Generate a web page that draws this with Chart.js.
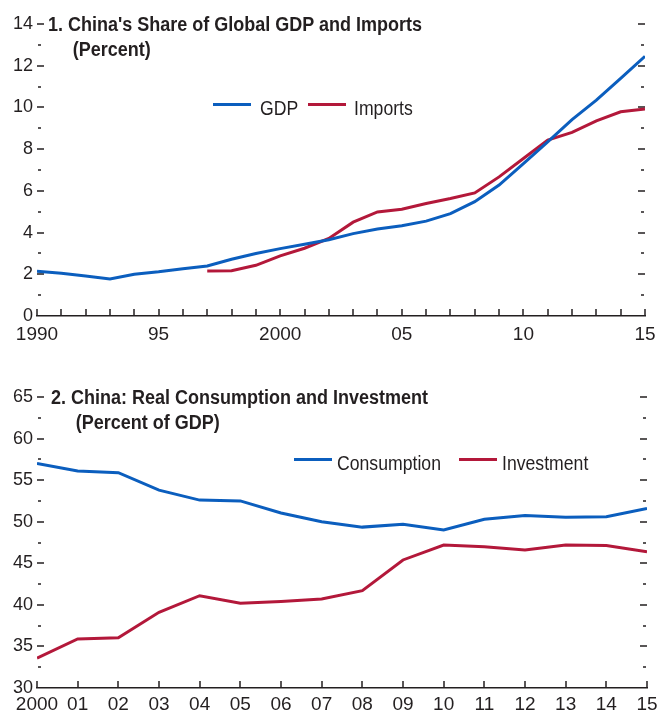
<!DOCTYPE html>
<html>
<head>
<meta charset="utf-8">
<script src="https://cdn.jsdelivr.net/npm/chart.js@4.4.1/dist/chart.umd.min.js"></script>
<style>
  html, body { margin: 0; padding: 0; background: #fff; }
  body { width: 659px; height: 717px; position: relative; overflow: hidden;
         font-family: "Liberation Sans", Arial, sans-serif; color: #231f20; }
  canvas { position: absolute; left: 0; }
  #top { top: 0; }
  #bottom { top: 360px; }
  .title { position: absolute; font-weight: bold; font-size: 20px; line-height: 25px; white-space: nowrap;
           transform: scaleX(0.9); transform-origin: 0 0; }
  .title span { display: block; padding-left: 27.5px; }
  .swatch { position: absolute; height: 3px; }
  .lab { position: absolute; font-size: 21px; line-height: 22px; white-space: nowrap;
         transform: scaleX(0.84); transform-origin: 0 0; }
</style>
</head>
<body>
<canvas id="top" width="659" height="350"></canvas>
<canvas id="bottom" width="659" height="357"></canvas>

<div class="title" style="left:48px; top:12px;">1. China's Share of Global GDP and Imports<span>(Percent)</span></div>
<div class="swatch" style="left:213px; top:102.5px; width:38px; background:#0b5ebe;"></div>
<div class="lab" style="left:260px; top:97px;">GDP</div>
<div class="swatch" style="left:308px; top:102.5px; width:38px; background:#b3183a;"></div>
<div class="lab" style="left:354px; top:97px;">Imports</div>

<div class="title" style="left:51px; top:384.5px;">2. China: Real Consumption and Investment<span>(Percent of GDP)</span></div>
<div class="swatch" style="left:294px; top:458px; width:38px; background:#0b5ebe;"></div>
<div class="lab" style="left:337px; top:452px;">Consumption</div>
<div class="swatch" style="left:459px; top:458px; width:38px; background:#b3183a;"></div>
<div class="lab" style="left:502px; top:452px;">Investment</div>

<script>
// Panel 1: China's share of global GDP and imports (percent)
const years1 = [1990, 1991, 1992, 1993, 1994, 1995, 1996, 1997, 1998, 1999, 2000, 2001, 2002,
                2003, 2004, 2005, 2006, 2007, 2008, 2009, 2010, 2011, 2012, 2013, 2014, 2015];
const gdpShare = [2.15, 2.05, 1.92, 1.77, 2.0, 2.12, 2.27, 2.4, 2.72, 3.0, 3.23, 3.44, 3.66,
                  3.95, 4.17, 4.33, 4.55, 4.91, 5.48, 6.28, 7.31, 8.35, 9.42, 10.35, 11.39, 12.45];
const importShare = [null, null, null, null, null, null, null, 2.16, 2.17, 2.43, 2.88, 3.25, 3.72,
                     4.5, 4.99, 5.12, 5.39, 5.63, 5.9, 6.67, 7.55, 8.43, 8.8, 9.36, 9.79, 9.93];
const xLabels1 = ['1990', '95', '2000', '05', '10', '15'];

// Panel 2: China real consumption and investment (percent of GDP)
const years2 = [2000, 2001, 2002, 2003, 2004, 2005, 2006, 2007, 2008, 2009, 2010, 2011, 2012, 2013, 2014, 2015];
const consumption = [57.0, 56.1, 55.9, 53.8, 52.6, 52.5, 51.05, 50.0, 49.35, 49.7, 49.0, 50.3, 50.75, 50.55, 50.6, 51.6];
const investment = [33.6, 35.9, 36.05, 39.1, 41.1, 40.2, 40.4, 40.7, 41.7, 45.4, 47.2, 47.0, 46.6, 47.2, 47.15, 46.4];
const xLabels2 = ['2000', '01', '02', '03', '04', '05', '06', '07', '08', '09', '10', '11', '12', '13', '14', '15'];

const BLUE = '#0b5ebe';
const RED = '#b3183a';
const INK = '#231f20';
const X_FONT = { family: '"Liberation Sans", Arial, sans-serif', size: 19 };
const Y_FONT = { family: '"Liberation Sans", Arial, sans-serif', size: 18 };

// small tick marks drawn inward on both sides and along the bottom
const tickMarks = {
  id: 'tickMarks',
  beforeDatasetsDraw(chart, args, opts) {
    const { ctx, chartArea: a, scales: { x, y } } = chart;
    ctx.save();
    ctx.strokeStyle = INK;
    ctx.lineWidth = 1.5;
    ctx.beginPath();
    for (let v = x.min; v <= x.max; v += 1) {
      const px = Math.round(x.getPixelForValue(v));
      ctx.moveTo(px, a.bottom);
      ctx.lineTo(px, a.bottom - 7);
    }
    for (let v = y.min + opts.minor; v <= y.max + 1e-9; v += opts.minor) {
      const isMajor = Math.abs(v / opts.major - Math.round(v / opts.major)) < 1e-6;
      const py = Math.round(y.getPixelForValue(v));
      if (isMajor) {
        ctx.moveTo(a.left, py); ctx.lineTo(a.left + 7, py);
        ctx.moveTo(a.right, py); ctx.lineTo(a.right - 7, py);
      } else {
        ctx.moveTo(a.left + 1, py); ctx.lineTo(a.left + 4, py);
        ctx.moveTo(a.right - 1, py); ctx.lineTo(a.right - 4, py);
      }
    }
    ctx.stroke();
    ctx.restore();
  }
};

function lineSet(label, xs, ys, color) {
  return {
    label: label,
    data: xs.map((yr, i) => ({ x: yr, y: ys[i] })),
    borderColor: color,
    backgroundColor: color,
    borderWidth: 3,
    pointRadius: 0,
    tension: 0,
    spanGaps: false
  };
}

function makeChart(id, cfg) {
  return new Chart(document.getElementById(id), {
    type: 'line',
    data: { datasets: cfg.datasets },
    options: {
      responsive: false,
      animation: false,
      devicePixelRatio: 1,
      layout: { padding: cfg.padding },
      plugins: {
        legend: { display: false },
        tooltip: { enabled: false },
        tickMarks: { major: cfg.yStep, minor: cfg.yMinor }
      },
      scales: {
        x: {
          type: 'linear',
          min: cfg.xMin, max: cfg.xMax,
          grid: { display: false, drawTicks: false },
          border: { display: true, color: INK, width: 1.5 },
          ticks: {
            stepSize: cfg.xStep,
            autoSkip: false, maxRotation: 0,
            color: INK, font: X_FONT, padding: cfg.xPad,
            callback: (v, i) => cfg.xLabels[i]
          },
          afterFit: s => {
            s.height = cfg.xHeight;
            // keep the plot edges fixed; end labels may hang into the margins
            s.paddingLeft = 0;
            s.paddingRight = 0;
          }
        },
        y: {
          min: cfg.yMin, max: cfg.yMax,
          grid: { display: false, drawTicks: false },
          border: { display: false },
          ticks: { stepSize: cfg.yStep, color: INK, font: Y_FONT, padding: 4 },
          afterFit: s => { s.width = 37; }
        }
      }
    },
    plugins: [tickMarks]
  });
}

makeChart('top', {
  datasets: [lineSet('GDP', years1, gdpShare, BLUE), lineSet('Imports', years1, importShare, RED)],
  padding: { top: 24, right: 14, left: 0, bottom: 0 },
  xMin: 1990, xMax: 2015, xStep: 5, xLabels: xLabels1, xPad: 7, xHeight: 34,
  yMin: 0, yMax: 14, yStep: 2, yMinor: 1
});

makeChart('bottom', {
  datasets: [lineSet('Consumption', years2, consumption, BLUE), lineSet('Investment', years2, investment, RED)],
  padding: { top: 37, right: 12, left: 0, bottom: 0 },
  xMin: 2000, xMax: 2015, xStep: 1, xLabels: xLabels2, xPad: 5, xHeight: 29,
  yMin: 30, yMax: 65, yStep: 5, yMinor: 2.5
});
</script>
</body>
</html>
